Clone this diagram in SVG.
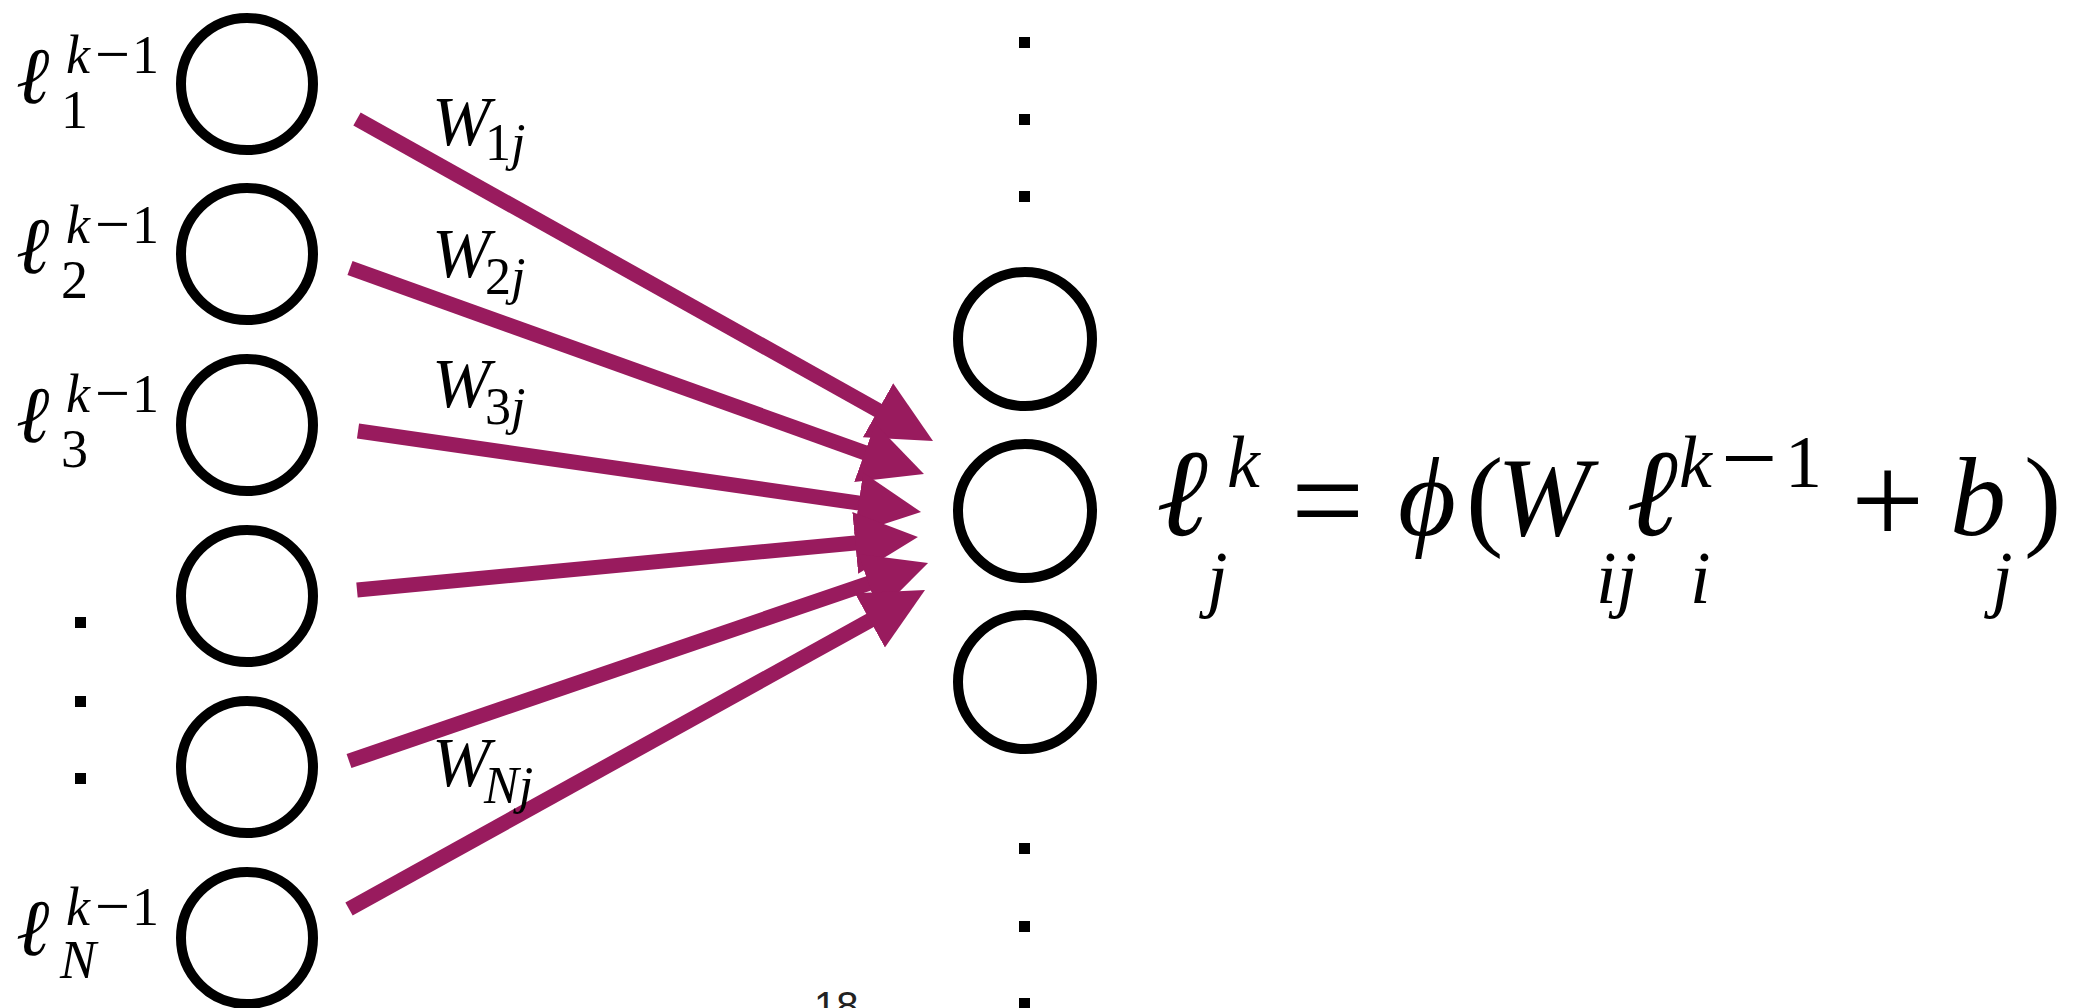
<svg xmlns="http://www.w3.org/2000/svg" width="2086" height="1008" viewBox="0 0 2086 1008">
<style>
.node{fill:#fff;stroke:#000;stroke-width:10}
.m{font-family:"Liberation Serif","DejaVu Serif",serif;fill:#000}
.it{font-style:italic}
.lab{font-size:80px}
.scr{font-size:54px}
.mn{font-size:62px}
.w{font-size:70px}
.ws{font-size:52px}
.f{font-size:112px}
.fl{font-size:124px}
.op{font-size:130px}
.fs{font-size:74px}
.fmn{font-size:100px}
.dot{fill:#000}
.arrow{stroke:#991b5e;stroke-width:15;fill:none;marker-end:url(#ah)}
</style>
<defs>
<marker id="ah" markerUnits="userSpaceOnUse" markerWidth="70" markerHeight="70" viewBox="0 -35 70 70" refX="8" refY="0" orient="auto">
<path d="M0,-31 L63,0 L0,31 Z" fill="#991b5e"/>
</marker>
</defs>
<rect width="2086" height="1008" fill="#fff"/>
<g id="connectors">
<line class="arrow" x1="357" y1="119" x2="885.0" y2="414.2"/>
<line class="arrow" x1="350" y1="268" x2="872.2" y2="455.4"/>
<line class="arrow" x1="358" y1="431" x2="866.6" y2="504.2"/>
<line class="arrow" x1="357" y1="590" x2="863.2" y2="542.2"/>
<line class="arrow" x1="349" y1="761" x2="876.0" y2="580.8"/>
<line class="arrow" x1="349" y1="909" x2="876.9" y2="616.6"/>
</g>
<g id="weights">
<text class="m it w" x="432" y="145">W<tspan class="ws" x="485" y="160" font-style="normal">1</tspan><tspan class="ws" y="160">j</tspan></text>
<text class="m it w" x="432" y="277">W<tspan class="ws" x="485" y="294" font-style="normal">2</tspan><tspan class="ws" y="294">j</tspan></text>
<text class="m it w" x="432" y="407">W<tspan class="ws" x="485" y="424" font-style="normal">3</tspan><tspan class="ws" y="424">j</tspan></text>
<text class="m it w" x="432" y="786">W<tspan class="ws" x="484" y="803">N</tspan><tspan class="ws" y="803">j</tspan></text>
</g>
<g id="in1"><circle class="node" cx="247" cy="84" r="66"/>
<text class="m it lab" x="16" y="103">ℓ</text><text class="m it scr" x="66" y="73">k</text><text class="m mn" x="95" y="75">−</text><text class="m scr" x="132" y="73">1</text><text class="m scr" x="61" y="128">1</text></g>
<g id="in2"><circle class="node" cx="247" cy="254" r="66"/>
<text class="m it lab" x="16" y="273">ℓ</text><text class="m it scr" x="66" y="243">k</text><text class="m mn" x="95" y="245">−</text><text class="m scr" x="132" y="243">1</text><text class="m scr" x="61" y="298">2</text></g>
<g id="in3"><circle class="node" cx="247" cy="425" r="66"/>
<text class="m it lab" x="16" y="442">ℓ</text><text class="m it scr" x="66" y="412">k</text><text class="m mn" x="95" y="414">−</text><text class="m scr" x="132" y="412">1</text><text class="m scr" x="61" y="467">3</text></g>
<g id="in4"><circle class="node" cx="247" cy="596" r="66"/></g>
<g id="in5"><circle class="node" cx="247" cy="767" r="66"/></g>
<g id="inN"><circle class="node" cx="247" cy="938" r="66"/>
<text class="m it lab" x="16" y="955">ℓ</text><text class="m it scr" x="66" y="925">k</text><text class="m mn" x="95" y="927">−</text><text class="m scr" x="132" y="925">1</text><text class="m it scr" x="60" y="978">N</text></g>
<g id="leftdots">
<rect class="dot" x="75" y="617" width="11" height="11"/>
<rect class="dot" x="75" y="696" width="11" height="11"/>
<rect class="dot" x="75" y="773" width="11" height="11"/>
</g>
<g id="out1"><circle class="node" cx="1025" cy="339" r="67"/></g>
<g id="outj"><circle class="node" cx="1025" cy="511" r="67"/></g>
<g id="out3"><circle class="node" cx="1025" cy="682" r="67"/></g>
<g id="middots">
<rect class="dot" x="1019" y="37" width="11" height="11"/>
<rect class="dot" x="1019" y="114" width="11" height="11"/>
<rect class="dot" x="1019" y="191" width="11" height="11"/>
<rect class="dot" x="1019" y="843" width="11" height="11"/>
<rect class="dot" x="1019" y="921" width="11" height="11"/>
<rect class="dot" x="1019" y="998" width="11" height="11"/>
</g>
<g id="formula">
<text class="m it fl" x="1156" y="535">ℓ</text>
<text class="m it fs" x="1227" y="487">k</text>
<text class="m it fs" x="1207" y="603">j</text>
<text class="m op" x="1291" y="544">=</text>
<text class="m it f" x="1398" y="535">ϕ</text>
<text class="m f" x="1466" y="535">(</text>
<text class="m it f" x="1497" y="535">W</text>
<text class="m it fs" x="1596" y="603">ij</text>
<text class="m it fl" x="1626" y="535">ℓ</text>
<text class="m it fs" x="1679" y="487">k</text>
<text class="m fmn" x="1721" y="492">−</text>
<text class="m fs" x="1785" y="487">1</text>
<text class="m it fs" x="1690" y="603">i</text>
<text class="m op" x="1851" y="544">+</text>
<text class="m it f" x="1950" y="535">b</text>
<text class="m it fs" x="1992" y="603">j</text>
<text class="m f" x="2024" y="535">)</text>
</g>
<text x="814" y="1020" font-family="Liberation Sans, Arial, sans-serif" font-size="40" fill="#222">18</text>
</svg>
